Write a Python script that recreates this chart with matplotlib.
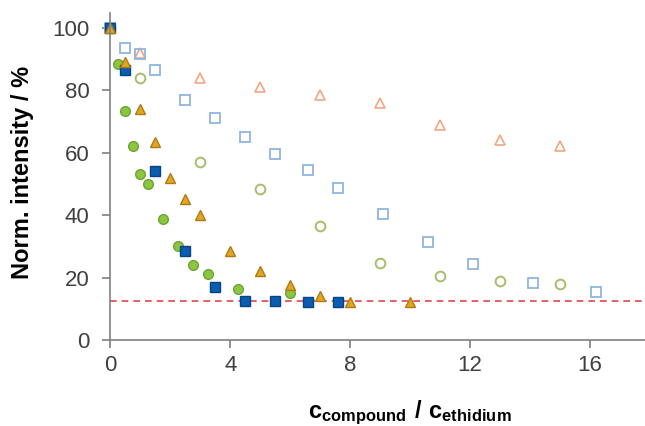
import matplotlib
matplotlib.use("Agg")
import matplotlib.pyplot as plt

plt.rcParams['font.family'] = ['Liberation Sans', 'DejaVu Sans']
plt.rcParams['mathtext.fontset'] = 'custom'
plt.rcParams['mathtext.rm'] = 'Liberation Sans'
plt.rcParams['mathtext.bf'] = 'Liberation Sans:bold'

# filled blue squares
blue_fill_x = [0, 0.5, 1.5, 2.5, 3.5, 4.5, 5.5, 6.6, 7.6]
blue_fill_y = [100, 86.5, 54, 28.5, 17, 12.5, 12.5, 12, 12]
# open blue squares
blue_open_x = [0, 0.5, 1, 1.5, 2.5, 3.5, 4.5, 5.5, 6.6, 7.6, 9.1, 10.6, 12.1, 14.1, 16.2]
blue_open_y = [100, 93.5, 91.5, 86.5, 77, 71, 65, 59.5, 54.5, 48.8, 40.5, 31.3, 24.2, 18.3, 15.3]
# filled green circles
green_fill_x = [0, 0.25, 0.5, 0.75, 1, 1.25, 1.75, 2.25, 2.75, 3.25, 4.25, 6]
green_fill_y = [100, 88.5, 73.2, 62.2, 53.2, 50, 38.8, 30, 24, 21.2, 16.4, 15]
# open green circles
green_open_x = [0, 1, 3, 5, 7, 9, 11, 13, 15]
green_open_y = [100, 84, 57, 48.3, 36.5, 24.5, 20.5, 19, 18]
# filled orange triangles
orange_fill_x = [0, 0.5, 1, 1.5, 2, 2.5, 3, 4, 5, 6, 7, 8, 10]
orange_fill_y = [100, 89, 74, 63.3, 52, 45.3, 40, 28.6, 22, 17.5, 14.2, 12.3, 12]
# open orange triangles
orange_open_x = [0, 1, 3, 5, 7, 9, 11, 13, 15]
orange_open_y = [100, 92, 84, 81, 78.5, 76, 68.7, 64, 62]

limit_y = 12.5

fig = plt.figure(figsize=(6.45, 4.26), dpi=100)
ax = fig.add_axes([0.171, 0.202, 0.829, 0.768])

ms = 7
ax.plot(orange_open_x, orange_open_y, '^', ms=ms, mfc='none', mec='#f3a580', mew=1.2, clip_on=False)
ax.plot(green_open_x, green_open_y, 'o', ms=ms, mfc='none', mec='#a8bd6a', mew=1.4, clip_on=False)
ax.plot(blue_open_x, blue_open_y, 's', ms=ms, mfc='none', mec='#8db5e2', mew=1.3, clip_on=False)
ax.axhline(limit_y, color='#e0464a', ls=(0, (4, 3)), lw=1.2, zorder=1)
ax.plot(green_fill_x, green_fill_y, 'o', ms=ms, mfc='#8cc63f', mec='#6ea23a', mew=1, clip_on=False)
ax.plot(blue_fill_x, blue_fill_y, 's', ms=ms, mfc='#0a5db0', mec='#08457f', mew=1, clip_on=False)
ax.plot(orange_fill_x, orange_fill_y, '^', ms=ms, mfc='#e0a820', mec='#b07818', mew=1, clip_on=False)

ax.set_xlim(0, 17.83)
ax.set_ylim(0, 104.8)
ax.set_xticks([0, 4, 8, 12, 16])
ax.set_yticks([0, 20, 40, 60, 80, 100])

for s in ['top', 'right']:
    ax.spines[s].set_visible(False)
for s in ['left', 'bottom']:
    ax.spines[s].set_color('#808080')
    ax.spines[s].set_linewidth(1.2)
ax.tick_params(direction='out', length=6, width=1.2, color='#808080',
               labelsize=16, labelcolor='#404040')
ax.tick_params(axis='y', pad=9)
ax.tick_params(axis='x', pad=5)

fig.text(23 / 645, 1 - 172 / 426, 'Norm. intensity / %', fontsize=17, fontweight='bold',
         rotation=90, ha='center', va='center')
fig.text(410 / 645, 1 - 413 / 426, r'$\mathbf{c_{compound}\ /\ c_{ethidium}}$',
         fontsize=17, ha='center', va='center')

fig.savefig('out.png', dpi=100)
